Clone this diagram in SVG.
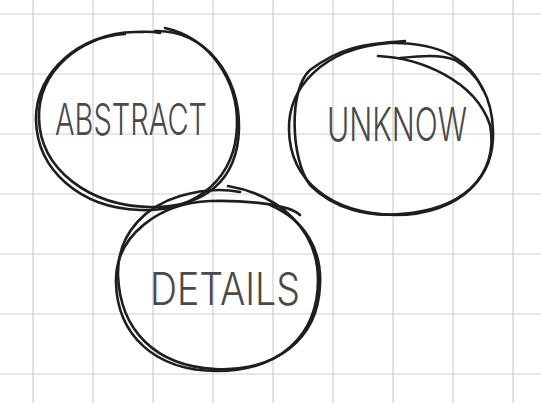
<svg xmlns="http://www.w3.org/2000/svg" width="541" height="403" viewBox="0 0 541 403">
<style>
.grid line{stroke:#cfcfcf;stroke-width:1.2}
.ring{fill:none;stroke:#1e1e1e;stroke-width:2.6;stroke-linecap:round}
.lbl{font-family:Inter,"DejaVu Sans","Liberation Sans",sans-serif;fill:#4a4a4a;font-weight:300}
</style>
<rect width="541" height="403" fill="#ffffff"/>
<g class="grid">
<line x1="33" y1="0" x2="33" y2="403"/><line x1="93" y1="0" x2="93" y2="403"/><line x1="153" y1="0" x2="153" y2="403"/><line x1="213" y1="0" x2="213" y2="403"/><line x1="273" y1="0" x2="273" y2="403"/><line x1="333" y1="0" x2="333" y2="403"/><line x1="393" y1="0" x2="393" y2="403"/><line x1="453" y1="0" x2="453" y2="403"/><line x1="513" y1="0" x2="513" y2="403"/>
<line x1="0" y1="14" x2="541" y2="14"/><line x1="0" y1="74" x2="541" y2="74"/><line x1="0" y1="134" x2="541" y2="134"/><line x1="0" y1="194" x2="541" y2="194"/><line x1="0" y1="254" x2="541" y2="254"/><line x1="0" y1="314" x2="541" y2="314"/><line x1="0" y1="374" x2="541" y2="374"/>
</g>
<g id="connectors"></g>
<g id="abstract">
<path class="ring" d="M165,28 C210,38 238,80 237,125 C236,175 200,212 140,210 C80,208 37,170 36,120 C35,72 80,33 135,32 C145,32 150,31 160,33"/>
<path class="ring" d="M155,31 C205,30 240,75 239,128 C238,180 205,208 150,207 C90,206 40,170 39,118 C38,70 82,36 125,34"/>
<text class="lbl" x="55" y="135" font-size="44" textLength="152" lengthAdjust="spacingAndGlyphs">ABSTRACT</text>
</g>
<g id="unknow">
<path class="ring" d="M378,56 C420,58 475,80 490,125 C500,175 460,215 395,215 C330,214 290,180 289,130 C288,90 320,48 390,43 C440,42 470,60 483,90"/>
<path class="ring" d="M405,41 C360,44 340,48 310,70 C288,90 291,160 310,185 C335,210 370,217 400,214 C460,210 495,180 493,130 C492,100 480,75 455,60 C440,54 420,56 400,58"/>
<text class="lbl" x="327" y="141" font-size="46" textLength="140" lengthAdjust="spacingAndGlyphs">UNKNOW</text>
</g>
<g id="details">
<path class="ring" d="M228,186 C280,195 318,230 318,280 C318,335 280,371 217,371 C155,371 117,335 116,282 C115,235 160,203 210,201 C250,200 290,205 300,215"/>
<path class="ring" d="M270,205 C305,220 322,250 320,285 C318,340 275,372 215,369 C155,366 120,330 118,275 C117,230 150,205 180,196 C200,190 220,188 240,192"/>
<text class="lbl" x="150" y="305" font-size="45" textLength="150" lengthAdjust="spacingAndGlyphs">DETAILS</text>
</g>
</svg>
